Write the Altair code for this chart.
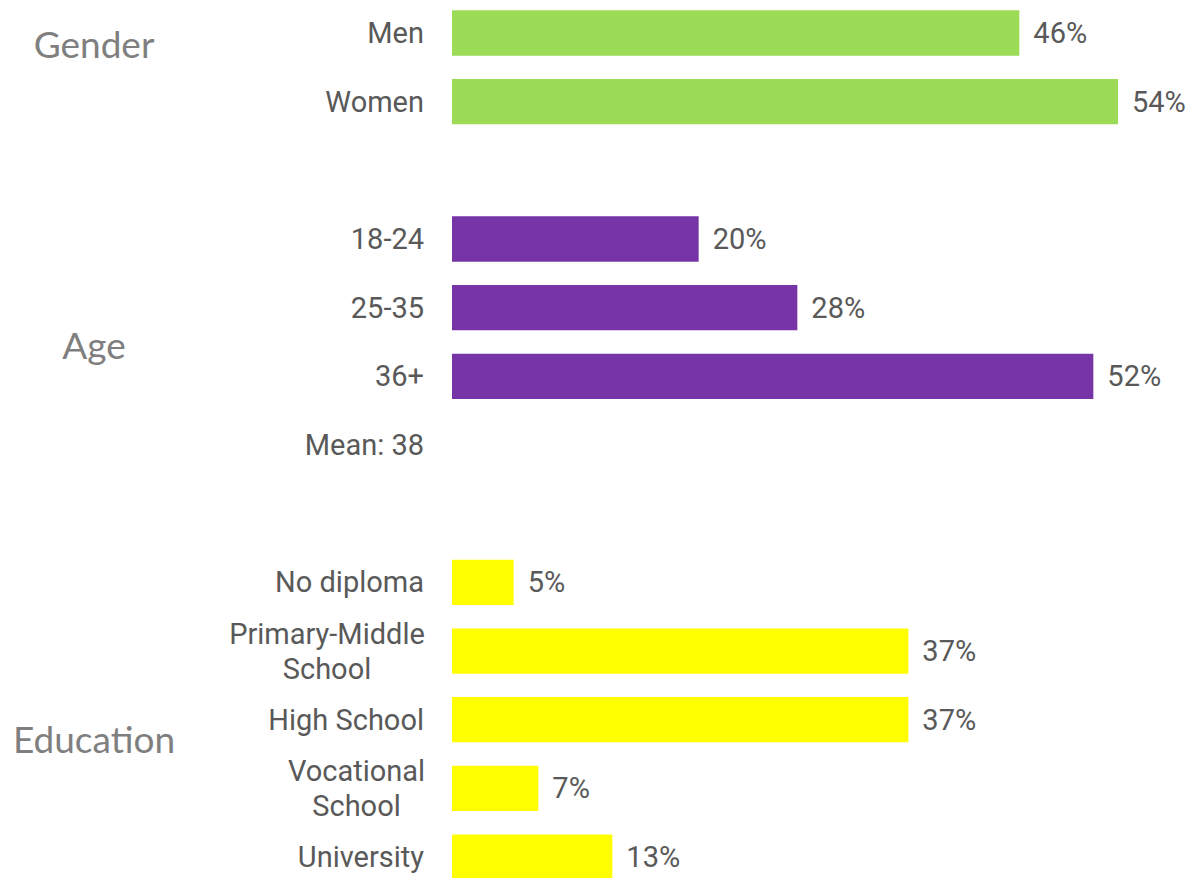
import altair as alt
import pandas as pd

# Data
categories = ["Men", "Women", "18-24", "25-35", "36+", "Mean: 38",
              "No diploma", "Primary-Middle\nSchool", "High School",
              "Vocational\nSchool", "University"]
groups = ["Gender", "Gender", "Age", "Age", "Age", "Age",
          "Education", "Education", "Education", "Education", "Education"]
values = [46, 54, 20, 28, 52, None, 5, 37, 37, 7, 13]
value_labels = ["46%", "54%", "20%", "28%", "52%", "", "5%", "37%", "37%", "7%", "13%"]
slots = [0, 1, 3, 4, 5, 6, 8, 9, 10, 11, 12]

group_names = ["Gender", "Age", "Education"]
group_slots = [0.2, 4.59, 10.33]

colors = {"Gender": "#9BDB55", "Age": "#7634A7", "Education": "#FFFF00"}

df = pd.DataFrame({
    "cat": categories, "group": groups, "value": values,
    "vlabel": value_labels, "slot": slots,
})
df["multi"] = df["cat"].str.contains("\n")
gdf = pd.DataFrame({"gname": group_names, "gslot": group_slots})

yscale = alt.Scale(domain=[-0.364, 12.305], reverse=True, nice=False, zero=False)
xscale = alt.Scale(domain=[0, 60], nice=False)

base = alt.Chart(df)

bars = base.transform_filter("datum.value != null").transform_calculate(
    y0="datum.slot - 0.33", y1="datum.slot + 0.33"
).mark_bar().encode(
    x=alt.X("value:Q", scale=xscale, axis=None),
    x2=alt.value(0),
    y=alt.Y("y0:Q", scale=yscale, axis=None),
    y2="y1:Q",
    color=alt.Color("group:N",
                    scale=alt.Scale(domain=list(colors.keys()), range=list(colors.values())),
                    legend=None),
)

vtext = base.transform_filter("datum.value != null").mark_text(
    align="left", baseline="middle", dx=14, dy=1, font="Roboto", fontSize=29, color="#595959"
).encode(
    x=alt.X("value:Q", scale=xscale, axis=None),
    y=alt.Y("slot:Q", scale=yscale, axis=None),
    text="vlabel:N",
)

ctext1 = base.transform_filter("!datum.multi").mark_text(
    align="right", baseline="middle", dy=1, font="Roboto", fontSize=29, color="#595959",
).encode(
    x=alt.value(-28),
    y=alt.Y("slot:Q", scale=yscale, axis=None),
    text="cat:N",
)

# multi-line labels: lines centred on each other, right edge of longest line at -28
multi_layers = []
for label, center_x in [("Primary-Middle\nSchool", -125), ("Vocational\nSchool", -95.5)]:
    multi_layers.append(
        base.transform_filter(alt.datum.cat == label).mark_text(
            align="center", baseline="middle", dy=-16, font="Roboto", fontSize=29,
            color="#595959", lineBreak="\n", lineHeight=35
        ).encode(
            x=alt.value(center_x),
            y=alt.Y("slot:Q", scale=yscale, axis=None),
            text="cat:N",
        )
    )

gtext = alt.Chart(gdf).mark_text(
    align="center", baseline="middle", font="Lato", fontSize=37, color="#7F7F7F"
).encode(
    x=alt.value(-358),
    y=alt.Y("gslot:Q", scale=yscale, axis=None),
    text="gname:N",
)

chart = alt.layer(bars, vtext, ctext1, *multi_layers, gtext).properties(
    width=740, height=870,
    background="white",
    autosize=alt.AutoSizeParams(type="none"),
    padding={"left": 444, "top": 0, "right": 0, "bottom": 0},
).configure_view(strokeWidth=0)

chart.save("out.html", embed_options={"renderer": "svg", "actions": False})
